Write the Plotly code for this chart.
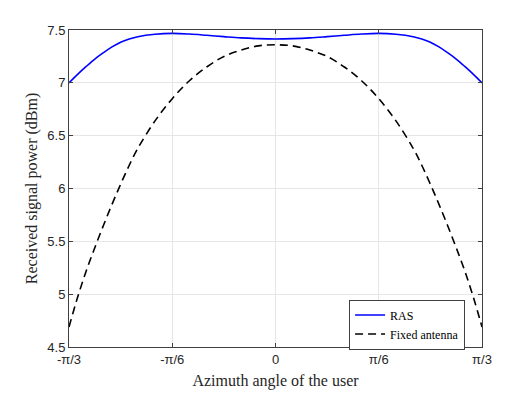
import plotly.graph_objects as go

# azimuth angle in degrees (-pi/3 .. pi/3)
angle_deg = [-60, -57.5, -55, -52.5, -50, -47.5, -45, -42.5, -40, -35, -30, -25, -20, -15, -10, -5,
             0, 5, 10, 15, 20, 25, 30, 35, 40, 42.5, 45, 47.5, 50, 52.5, 55, 57.5, 60]

ras = [7.00, 7.08, 7.155, 7.225, 7.285, 7.34, 7.385, 7.415, 7.437, 7.46, 7.468, 7.462, 7.45,
       7.437, 7.425, 7.418,
       7.415,
       7.418, 7.425, 7.437, 7.45, 7.462, 7.468, 7.46, 7.437, 7.415, 7.385, 7.34, 7.285, 7.225,
       7.155, 7.08, 7.00]

fixed = [4.69, 4.97, 5.22, 5.44, 5.65, 5.85, 6.04, 6.22, 6.38, 6.64, 6.85, 7.02, 7.15, 7.25,
         7.31, 7.35,
         7.36,
         7.35, 7.31, 7.25, 7.15, 7.02, 6.85, 6.64, 6.38, 6.22, 6.04, 5.85, 5.65, 5.44, 5.22,
         4.97, 4.69]

tick_vals = [-60, -30, 0, 30, 60]
tick_text = ["-π/3", "-π/6", "0", "π/6", "π/3"]
y_ticks = [4.5, 5, 5.5, 6, 6.5, 7, 7.5]
y_text = ["4.5", "5", "5.5", "6", "6.5", "7", "7.5"]

serif = "Liberation Serif, DejaVu Serif, serif"
sans = "Liberation Sans, Arial, sans-serif"

fig = go.Figure()
fig.add_trace(go.Scatter(x=angle_deg, y=ras, mode="lines", name="RAS",
                         line=dict(color="#0000FF", width=1.6, shape="spline")))
fig.add_trace(go.Scatter(x=angle_deg, y=fixed, mode="lines", name="Fixed antenna",
                         line=dict(color="black", width=1.6, dash="8px,5px", shape="spline")))

axis_common = dict(
    showline=True, linecolor="#404040", linewidth=1, mirror="ticks",
    ticks="inside", ticklen=4, tickcolor="#404040",
    showgrid=True, gridcolor="#E6E6E6", gridwidth=1, zeroline=False,
    tickfont=dict(family=sans, size=13, color="#262626"),
)

fig.update_layout(
    width=532, height=399,
    margin=dict(l=69, r=50, t=30, b=44),
    paper_bgcolor="white", plot_bgcolor="white",
    xaxis=dict(range=[-60, 60], tickvals=tick_vals, ticktext=tick_text,
               title=dict(text="Azimuth angle of the user", standoff=9,
                          font=dict(family=serif, size=16, color="#262626")),
               **axis_common),
    yaxis=dict(range=[4.5, 7.5], tickvals=y_ticks, ticktext=y_text,
               title=dict(text="Received signal power (dBm)", standoff=5,
                          font=dict(family=serif, size=16, color="#262626")),
               **axis_common),
    legend=dict(x=0.959, y=-0.008, xanchor="right", yanchor="bottom",
                bgcolor="white", bordercolor="#404040", borderwidth=1,
                font=dict(family=serif, size=12, color="black"),
                tracegroupgap=0, itemwidth=30),
    showlegend=True,
)

# drop the page's default body margin so the figure sits at the top-left corner
fig.write_html("out.html", config={"displayModeBar": False},
               post_script="document.body.style.margin='0';")
